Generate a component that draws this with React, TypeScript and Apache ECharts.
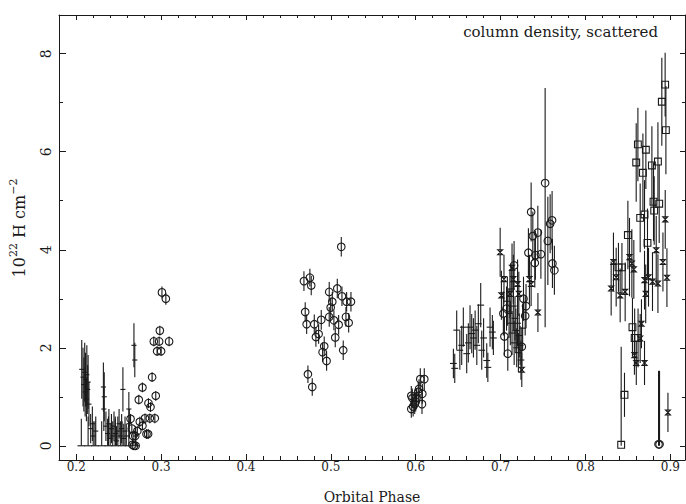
import React, { useEffect, useRef } from "react";
import * as echarts from "echarts";

// ---------- axes ----------
const X_MIN = 0.1797;
const X_MAX = 0.9173;
const Y_MIN = -0.29;
const Y_MAX = 8.79;
const X_MAJOR = [0.2, 0.3, 0.4, 0.5, 0.6, 0.7, 0.8, 0.9];
const X_MINOR = [0.22, 0.24, 0.26, 0.28, 0.32, 0.34, 0.36, 0.38, 0.42, 0.44, 0.46, 0.48, 0.52, 0.54, 0.56, 0.58, 0.62, 0.64, 0.66, 0.68, 0.72, 0.74, 0.76, 0.78, 0.82, 0.84, 0.86, 0.88];
const Y_MAJOR = [0, 2, 4, 6, 8];
const Y_MINOR = [1, 3, 5, 7];

// ---------- data ----------
// "+" points, early phases
const plusEarlyPhase = [0.2065, 0.208, 0.209, 0.21, 0.2105, 0.211, 0.212, 0.2125, 0.2135, 0.214, 0.215, 0.217, 0.219, 0.22, 0.223, 0.232, 0.2325, 0.233, 0.235, 0.237, 0.2385, 0.24, 0.2415, 0.243, 0.2445, 0.246, 0.2475, 0.249, 0.2505, 0.252, 0.2535, 0.255, 0.256, 0.2575, 0.259, 0.262, 0.2625, 0.268, 0.269, 0.27];
const plusEarlyValue = [1.56, 1.4, 1.25, 1.5, 1.1, 1.35, 0.95, 1.45, 1.15, 1.3, 0.85, 0.35, 0.45, 0.2, 0.3, 1.2, 0.75, 1.0, 0.4, 0.25, 0.45, 0.15, 0.35, 0.2, 0.4, 0.25, 0.1, 0.3, 0.45, 0.2, 0.35, 1.15, 0.15, 0.3, 0.2, 0.75, 0.45, 2.05, 1.75, 0.2];
const plusEarlyErr = [0.6, 0.6, 0.55, 0.6, 0.5, 0.55, 0.45, 0.6, 0.5, 0.55, 0.45, 0.3, 0.35, 0.3, 0.3, 0.5, 0.45, 0.5, 0.3, 0.3, 0.3, 0.3, 0.3, 0.3, 0.3, 0.3, 0.3, 0.3, 0.3, 0.3, 0.3, 0.45, 0.3, 0.3, 0.25, 0.35, 0.3, 0.45, 0.35, 0.2];
// "+" points at zero
const plusZeroPhase = [0.206, 0.214, 0.222, 0.23, 0.238, 0.246, 0.254, 0.262, 0.27];
const plusZeroValue = [0, 0, 0, 0, 0, 0, 0, 0, 0];
const plusZeroErr = [0.55, 0.6, 0.5, 0.5, 0.6, 0.6, 0.5, 0.5, 0.3];
// circles, early phases
const circEarlyPhase = [0.301, 0.3056, 0.2985, 0.2914, 0.2977, 0.3094, 0.2953, 0.3, 0.2894, 0.278, 0.2937, 0.2737, 0.2851, 0.2875, 0.264, 0.281, 0.2867, 0.2926, 0.2749, 0.278, 0.2828, 0.2847, 0.2663, 0.268, 0.27, 0.2655, 0.267, 0.2695, 0.272];
const circEarlyValue = [3.13, 3.0, 2.35, 2.13, 2.13, 2.13, 1.93, 1.93, 1.4, 1.19, 1.02, 0.94, 0.87, 0.79, 0.55, 0.56, 0.56, 0.56, 0.49, 0.41, 0.24, 0.24, 0.02, 0.0, 0.0, 0.35, 0.2, 0.2, 0.3];
const circEarlyErr = [0.12, 0.12, 0.1, 0.1, 0.1, 0.1, 0.1, 0.1, 0.1, 0.1, 0.1, 0.1, 0.1, 0.1, 0.1, 0.1, 0.1, 0.1, 0.1, 0.1, 0.1, 0.1, 0.1, 0.1, 0.1, 0.1, 0.1, 0.1, 0.1];
// circles, phase 0.47-0.52
const circMidPhase = [0.5123, 0.4683, 0.4753, 0.4769, 0.4981, 0.5076, 0.5131, 0.5186, 0.5237, 0.5017, 0.4998, 0.4698, 0.4981, 0.5036, 0.4887, 0.5178, 0.521, 0.5092, 0.4715, 0.4805, 0.4856, 0.4824, 0.5052, 0.4922, 0.4903, 0.5146, 0.495, 0.473, 0.4781];
const circMidValue = [4.06, 3.36, 3.43, 3.27, 3.14, 3.21, 3.05, 2.94, 2.94, 2.94, 2.82, 2.73, 2.63, 2.56, 2.57, 2.63, 2.51, 2.47, 2.48, 2.48, 2.28, 2.22, 2.21, 2.03, 1.91, 1.95, 1.73, 1.46, 1.2];
const circMidErr = [0.2, 0.2, 0.18, 0.2, 0.2, 0.2, 0.2, 0.2, 0.2, 0.2, 0.2, 0.2, 0.2, 0.2, 0.2, 0.2, 0.2, 0.2, 0.2, 0.2, 0.2, 0.2, 0.2, 0.2, 0.2, 0.2, 0.2, 0.18, 0.18];
// circles, phase 0.59-0.61
const circLowPhase = [0.5948, 0.596, 0.5948, 0.5988, 0.601, 0.6054, 0.6101, 0.6078, 0.6074, 0.6039, 0.603, 0.597, 0.6];
const circLowValue = [1.02, 0.97, 0.75, 0.85, 0.98, 1.36, 1.36, 1.06, 0.85, 1.16, 1.1, 0.8, 0.9];
const circLowErr = [0.2, 0.2, 0.18, 0.2, 0.2, 0.22, 0.22, 0.2, 0.2, 0.2, 0.2, 0.2, 0.2];
// "+" points, phase 0.64-0.73
const plusLatePhase = [0.6444, 0.646, 0.6483, 0.652, 0.6542, 0.6561, 0.6601, 0.662, 0.664, 0.666, 0.668, 0.67, 0.672, 0.6738, 0.6766, 0.6778, 0.68, 0.6837, 0.685, 0.6876, 0.6903, 0.6915, 0.708, 0.71, 0.7115, 0.7125, 0.7135, 0.715, 0.716, 0.717, 0.718, 0.719, 0.72, 0.721, 0.722, 0.723, 0.724, 0.726];
const plusLateValue = [1.68, 1.58, 2.36, 1.95, 2.05, 2.42, 1.88, 2.1, 2.42, 2.29, 2.2, 2.36, 2.05, 2.49, 2.87, 1.95, 2.2, 1.74, 1.6, 2.42, 2.32, 2.2, 2.95, 2.7, 2.5, 3.2, 2.3, 2.85, 2.1, 2.6, 2.35, 2.0, 2.5, 1.9, 2.25, 2.05, 1.75, 2.4];
const plusLateErr = [0.3, 0.3, 0.4, 0.4, 0.4, 0.4, 0.4, 0.4, 0.45, 0.4, 0.4, 0.4, 0.4, 0.4, 0.45, 0.4, 0.4, 0.35, 0.3, 0.4, 0.35, 0.35, 0.5, 0.5, 0.45, 0.5, 0.45, 0.5, 0.45, 0.45, 0.45, 0.4, 0.45, 0.4, 0.45, 0.4, 0.4, 0.45];
// hourglass points, phase 0.70-0.75
const starMidPhase = [0.6995, 0.701, 0.704, 0.711, 0.7135, 0.715, 0.72, 0.7215, 0.725, 0.734, 0.736, 0.744];
const starMidValue = [3.95, 3.07, 3.4, 3.1, 3.63, 3.4, 3.3, 3.1, 1.55, 3.4, 3.3, 2.72];
const starMidErr = [0.5, 0.5, 0.5, 0.5, 0.5, 0.5, 0.5, 0.45, 0.35, 0.5, 0.45, 0.4];
// circles, phase 0.70-0.77
const circHighPhase = [0.7525, 0.736, 0.7439, 0.738, 0.7328, 0.741, 0.7475, 0.7403, 0.7557, 0.7584, 0.7607, 0.7611, 0.7634, 0.7159, 0.7033, 0.707, 0.7045, 0.7085, 0.73, 0.729, 0.727, 0.725];
const circHighValue = [5.36, 4.77, 4.35, 4.28, 3.94, 3.89, 3.91, 3.73, 4.18, 4.53, 4.6, 3.72, 3.58, 3.68, 2.7, 2.8, 2.23, 1.88, 2.85, 2.65, 3.0, 2.02];
const circHighErr = [2.94, 0.6, 0.55, 0.5, 0.5, 0.5, 0.5, 0.5, 0.9, 0.6, 0.6, 0.5, 0.5, 0.5, 0.45, 0.45, 0.4, 0.35, 0.45, 0.4, 0.45, 0.4];
const circHighErrHi = [1.94, 0.6, 0.55, 0.5, 0.5, 0.5, 0.5, 0.5, 0.9, 0.6, 0.6, 0.5, 0.5, 0.5, 0.45, 0.45, 0.4, 0.35, 0.45, 0.4, 0.45, 0.4];
// squares, phase 0.83-0.90
const squarePhase = [0.8939, 0.89, 0.8948, 0.8618, 0.8712, 0.8598, 0.8854, 0.8783, 0.8677, 0.8802, 0.8869, 0.8645, 0.8696, 0.881, 0.85, 0.8731, 0.8389, 0.843, 0.8554, 0.858, 0.862, 0.846, 0.8421];
const squareValue = [7.37, 7.02, 6.44, 6.15, 6.04, 5.78, 5.8, 5.72, 5.57, 4.98, 4.94, 4.65, 4.72, 4.8, 4.3, 4.14, 3.64, 3.64, 2.42, 2.2, 2.2, 1.04, 0.02];
const squareErr = [0.65, 0.9, 0.9, 0.75, 0.8, 0.8, 0.8, 0.8, 0.8, 0.8, 0.8, 0.7, 0.7, 0.7, 0.7, 0.7, 0.5, 0.5, 0.6, 0.6, 0.6, 0.45, 2.0];
// hourglass points, phase 0.83-0.90
const starLatePhase = [0.833, 0.8303, 0.8362, 0.8409, 0.8468, 0.8519, 0.8547, 0.857, 0.8696, 0.8743, 0.879, 0.871, 0.8834, 0.8854, 0.8913, 0.896, 0.894, 0.866, 0.8645, 0.8577, 0.8599, 0.8696, 0.8972];
const starLateValue = [3.75, 3.21, 3.44, 3.07, 3.14, 3.85, 3.72, 3.6, 3.38, 3.44, 3.35, 3.1, 3.99, 3.31, 3.75, 3.43, 4.62, 2.49, 2.19, 1.85, 1.69, 1.69, 0.68];
const starLateErr = [0.6, 0.55, 0.6, 0.55, 0.6, 0.8, 0.7, 0.6, 0.6, 0.6, 0.6, 0.6, 0.7, 0.6, 0.6, 0.6, 0.6, 0.5, 0.5, 0.4, 0.45, 0.45, 0.4];
// circles at zero, phase 0.886
const circZeroPhase = [0.8861, 0.8873];
const circZeroValue = [0.03, 0.03];
const circZeroErr = [1.5, 1.5];

const INK = "#1a1a1a";
const FONT = "DejaVu Serif";

type Marker = "plus" | "circle" | "square" | "star";

function rows(phase: number[], value: number[], err: number[], xerr: number, errHi?: number[]) {
  return phase.map((p, i) => [p, value[i], err[i], errHi ? errHi[i] : err[i], xerr]);
}

function makeRender(marker: Marker) {
  return (params: any, api: any) => {
    const x = api.value(0);
    const y = api.value(1);
    const eLo = api.value(2);
    const eHi = api.value(3);
    const xe = api.value(4);
    const c = api.coord([x, y]);
    const lo = api.coord([x, Math.max(0, y - eLo)]);
    const hi = api.coord([x, y + eHi]);
    const st = { stroke: INK, lineWidth: 1.1, fill: "none" };
    const ch: any[] = [
      { type: "line", shape: { x1: c[0], y1: lo[1], x2: c[0], y2: hi[1] }, style: st },
    ];
    if (xe > 0) {
      const l = api.coord([x - xe, y]);
      const r = api.coord([x + xe, y]);
      ch.push({ type: "line", shape: { x1: l[0], y1: c[1], x2: r[0], y2: c[1] }, style: st });
    }
    if (marker === "circle") {
      ch.push({ type: "circle", shape: { cx: c[0], cy: c[1], r: 3.8 }, style: st });
    } else if (marker === "square") {
      ch.push({ type: "rect", shape: { x: c[0] - 3.4, y: c[1] - 3.4, width: 6.8, height: 6.8 }, style: st });
    } else if (marker === "star") {
      const s = 2.5;
      ch.push({
        type: "polygon",
        shape: { points: [[c[0] - s, c[1] - s], [c[0] + s, c[1] - s], [c[0] - s, c[1] + s], [c[0] + s, c[1] + s]] },
        style: st,
      });
    }
    return { type: "group", children: ch };
  };
}

function customSeries(marker: Marker, data: number[][]) {
  return {
    type: "custom",
    renderItem: makeRender(marker),
    data,
    encode: { x: 0, y: 1 },
    clip: false,
    silent: true,
  };
}

export default function App() {
  const ref = useRef<HTMLDivElement>(null);
  useEffect(() => {
    if (!ref.current) return;
    const chart = echarts.init(ref.current, null, { renderer: "svg" });
    const line = { color: INK, width: 1 };
    const xBase = {
      type: "value",
      min: X_MIN,
      max: X_MAX,
      splitLine: { show: false },
      axisLine: { show: true, onZero: false, lineStyle: line },
    };
    const yBase = {
      type: "value",
      min: Y_MIN,
      max: Y_MAX,
      splitLine: { show: false },
      axisLine: { show: true, onZero: false, lineStyle: line },
    };
    const hidden = { show: false, onZero: false };
    chart.setOption({
      animation: false,
      backgroundColor: "#ffffff",
      textStyle: { fontFamily: FONT },
      grid: { left: 59, right: 1, top: 15, bottom: 44, outerBoundsMode: "none" },
      xAxis: [
        {
          ...xBase,
          position: "bottom",
          axisTick: { inside: true, length: 6, customValues: X_MAJOR, lineStyle: line },
          axisLabel: { customValues: X_MAJOR, formatter: (v: number) => v.toFixed(1), margin: 1, fontSize: 12, color: INK, fontFamily: FONT },
        },
        {
          ...xBase,
          position: "bottom",
          axisLine: hidden,
          axisTick: { inside: true, length: 4, customValues: X_MINOR, lineStyle: line },
          axisLabel: { show: false },
        },
        {
          ...xBase,
          position: "top",
          axisTick: { inside: true, length: 5, customValues: X_MAJOR, lineStyle: line },
          axisLabel: { show: false },
        },
        {
          ...xBase,
          position: "top",
          axisLine: hidden,
          axisTick: { inside: true, length: 3, customValues: X_MINOR, lineStyle: line },
          axisLabel: { show: false },
        },
      ],
      yAxis: [
        {
          ...yBase,
          position: "left",
          axisTick: { inside: true, length: 7, customValues: Y_MAJOR, lineStyle: line },
          axisLabel: { customValues: Y_MAJOR, rotate: 90, margin: 6, fontSize: 14, color: INK, fontFamily: FONT },
        },
        {
          ...yBase,
          position: "left",
          axisLine: hidden,
          axisTick: { inside: true, length: 4, customValues: Y_MINOR, lineStyle: line },
          axisLabel: { show: false },
        },
        {
          ...yBase,
          position: "right",
          axisTick: { inside: true, length: 5, customValues: Y_MAJOR, lineStyle: line },
          axisLabel: { show: false },
        },
        {
          ...yBase,
          position: "right",
          axisLine: hidden,
          axisTick: { inside: true, length: 3, customValues: Y_MINOR, lineStyle: line },
          axisLabel: { show: false },
        },
      ],
      graphic: [
        {
          type: "text",
          x: 658,
          y: 32,
          style: { text: "column density, scattered", font: `15px "${FONT}"`, fill: INK, align: "right", verticalAlign: "middle" },
        },
        {
          type: "text",
          x: 372,
          y: 497,
          style: { text: "Orbital Phase", font: `14px "${FONT}"`, fill: INK, align: "center", verticalAlign: "middle" },
        },
        {
          type: "text",
          x: 19,
          y: 228,
          rotation: Math.PI / 2,
          style: {
            text: "{b|10}{s|22}{b| H cm}{s|−2}",
            align: "center",
            verticalAlign: "middle",
            fill: INK,
            rich: {
              b: { fontSize: 16, lineHeight: 22, fontFamily: FONT, fill: INK, color: INK },
              s: { fontSize: 11, lineHeight: 12, verticalAlign: "top", fontFamily: FONT, fill: INK, color: INK },
            },
          },
        },
      ],
      series: [
        customSeries("plus", rows(plusEarlyPhase, plusEarlyValue, plusEarlyErr, 0.003)),
        customSeries("plus", rows(plusZeroPhase, plusZeroValue, plusZeroErr, 0.0045)),
        customSeries("circle", rows(circEarlyPhase, circEarlyValue, circEarlyErr, 0)),
        customSeries("circle", rows(circMidPhase, circMidValue, circMidErr, 0)),
        customSeries("circle", rows(circLowPhase, circLowValue, circLowErr, 0)),
        customSeries("plus", rows(plusLatePhase, plusLateValue, plusLateErr, 0.004)),
        customSeries("star", rows(starMidPhase, starMidValue, starMidErr, 0)),
        customSeries("circle", rows(circHighPhase, circHighValue, circHighErr, 0, circHighErrHi)),
        customSeries("square", rows(squarePhase, squareValue, squareErr, 0)),
        customSeries("star", rows(starLatePhase, starLateValue, starLateErr, 0)),
        customSeries("circle", rows(circZeroPhase, circZeroValue, circZeroErr, 0)),
      ],
    });
    return () => chart.dispose();
  }, []);
  return <div ref={ref} style={{ position: "fixed", left: 0, top: 0, width: 686, height: 504 }} />;
}
